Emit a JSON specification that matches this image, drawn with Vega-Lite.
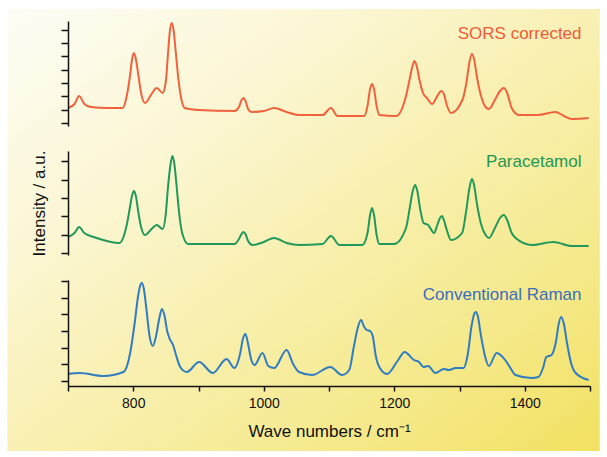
{
  "$schema": "https://vega.github.io/schema/vega-lite/v6.json",
  "padding": {"left": 7, "top": 8, "right": 7, "bottom": 7},
  "background": "#ffffff",
  "config": {"view": {"stroke": null}, "font": "Liberation Sans"},
  "datasets": {
    "sors": [
      {"wn":700,"intensity":18},{"wn":710,"intensity":22},{"wn":717,"intensity":30},{"wn":725,"intensity":22},{"wn":735,"intensity":19},{"wn":760,"intensity":18},{"wn":784,"intensity":18},{"wn":790,"intensity":30},{"wn":795,"intensity":50},{"wn":798,"intensity":66},{"wn":801,"intensity":73},{"wn":804,"intensity":67},{"wn":808,"intensity":50},{"wn":812,"intensity":33},{"wn":818,"intensity":23},{"wn":828,"intensity":32},{"wn":836,"intensity":38},{"wn":845,"intensity":33},{"wn":850,"intensity":45},{"wn":853,"intensity":70},{"wn":856,"intensity":94},{"wn":859,"intensity":103},{"wn":862,"intensity":95},{"wn":865,"intensity":75},{"wn":869,"intensity":48},{"wn":874,"intensity":26},{"wn":879,"intensity":18},{"wn":900,"intensity":16},{"wn":955,"intensity":15},{"wn":962,"intensity":19},{"wn":966,"intensity":26},{"wn":969,"intensity":28},{"wn":972,"intensity":25},{"wn":976,"intensity":17},{"wn":981,"intensity":14},{"wn":1000,"intensity":15},{"wn":1016,"intensity":18},{"wn":1035,"intensity":14},{"wn":1054,"intensity":11},{"wn":1090,"intensity":11},{"wn":1103,"intensity":18},{"wn":1113,"intensity":10},{"wn":1154,"intensity":10},{"wn":1159,"intensity":20},{"wn":1163,"intensity":37},{"wn":1166,"intensity":42},{"wn":1169,"intensity":37},{"wn":1173,"intensity":20},{"wn":1177,"intensity":11},{"wn":1203,"intensity":10},{"wn":1218,"intensity":30},{"wn":1224,"intensity":48},{"wn":1228,"intensity":60},{"wn":1231,"intensity":65},{"wn":1234,"intensity":61},{"wn":1239,"intensity":45},{"wn":1244,"intensity":33},{"wn":1250,"intensity":28},{"wn":1258,"intensity":22},{"wn":1266,"intensity":30},{"wn":1270,"intensity":34},{"wn":1273,"intensity":35},{"wn":1276,"intensity":32},{"wn":1281,"intensity":20},{"wn":1287,"intensity":13},{"wn":1305,"intensity":27},{"wn":1311,"intensity":45},{"wn":1315,"intensity":63},{"wn":1319,"intensity":72},{"wn":1322,"intensity":68},{"wn":1327,"intensity":48},{"wn":1333,"intensity":30},{"wn":1340,"intensity":19},{"wn":1345,"intensity":17},{"wn":1355,"intensity":27},{"wn":1362,"intensity":35},{"wn":1368,"intensity":38},{"wn":1373,"intensity":33},{"wn":1380,"intensity":18},{"wn":1391,"intensity":11},{"wn":1420,"intensity":11},{"wn":1447,"intensity":14},{"wn":1460,"intensity":10},{"wn":1472,"intensity":7},{"wn":1498,"intensity":8}
    ],
    "para": [
      {"wn":700,"intensity":18},{"wn":710,"intensity":22},{"wn":717,"intensity":28},{"wn":725,"intensity":22},{"wn":744,"intensity":17},{"wn":779,"intensity":12},{"wn":785,"intensity":18},{"wn":790,"intensity":30},{"wn":795,"intensity":48},{"wn":798,"intensity":59},{"wn":801,"intensity":64},{"wn":804,"intensity":59},{"wn":808,"intensity":42},{"wn":812,"intensity":28},{"wn":818,"intensity":20},{"wn":828,"intensity":26},{"wn":836,"intensity":30},{"wn":845,"intensity":26},{"wn":850,"intensity":42},{"wn":853,"intensity":66},{"wn":857,"intensity":90},{"wn":860,"intensity":99},{"wn":863,"intensity":91},{"wn":866,"intensity":72},{"wn":870,"intensity":44},{"wn":875,"intensity":22},{"wn":884,"intensity":11},{"wn":955,"intensity":11},{"wn":962,"intensity":16},{"wn":966,"intensity":21},{"wn":969,"intensity":23},{"wn":972,"intensity":21},{"wn":976,"intensity":14},{"wn":983,"intensity":10},{"wn":1000,"intensity":13},{"wn":1016,"intensity":17},{"wn":1035,"intensity":12},{"wn":1054,"intensity":10},{"wn":1090,"intensity":11},{"wn":1103,"intensity":19},{"wn":1116,"intensity":10},{"wn":1151,"intensity":10},{"wn":1159,"intensity":22},{"wn":1163,"intensity":40},{"wn":1166,"intensity":47},{"wn":1169,"intensity":40},{"wn":1173,"intensity":20},{"wn":1177,"intensity":11},{"wn":1200,"intensity":11},{"wn":1218,"intensity":27},{"wn":1224,"intensity":48},{"wn":1228,"intensity":63},{"wn":1232,"intensity":70},{"wn":1235,"intensity":65},{"wn":1240,"intensity":45},{"wn":1245,"intensity":32},{"wn":1252,"intensity":30},{"wn":1261,"intensity":22},{"wn":1266,"intensity":30},{"wn":1270,"intensity":37},{"wn":1273,"intensity":39},{"wn":1276,"intensity":35},{"wn":1281,"intensity":24},{"wn":1287,"intensity":15},{"wn":1304,"intensity":22},{"wn":1310,"intensity":43},{"wn":1315,"intensity":66},{"wn":1319,"intensity":76},{"wn":1322,"intensity":71},{"wn":1327,"intensity":50},{"wn":1333,"intensity":31},{"wn":1340,"intensity":20},{"wn":1345,"intensity":17},{"wn":1355,"intensity":28},{"wn":1362,"intensity":37},{"wn":1368,"intensity":40},{"wn":1373,"intensity":35},{"wn":1380,"intensity":22},{"wn":1386,"intensity":17},{"wn":1411,"intensity":10},{"wn":1444,"intensity":13},{"wn":1472,"intensity":9},{"wn":1498,"intensity":9}
    ],
    "conv": [
      {"wn":700,"intensity":12},{"wn":718,"intensity":13},{"wn":754,"intensity":10},{"wn":785,"intensity":14},{"wn":795,"intensity":32},{"wn":802,"intensity":62},{"wn":807,"intensity":88},{"wn":810,"intensity":99},{"wn":813,"intensity":103},{"wn":816,"intensity":98},{"wn":820,"intensity":78},{"wn":825,"intensity":50},{"wn":830,"intensity":40},{"wn":835,"intensity":50},{"wn":840,"intensity":68},{"wn":844,"intensity":77},{"wn":848,"intensity":70},{"wn":852,"intensity":55},{"wn":856,"intensity":47},{"wn":861,"intensity":41},{"wn":866,"intensity":30},{"wn":872,"intensity":19},{"wn":882,"intensity":14},{"wn":901,"intensity":24},{"wn":922,"intensity":13},{"wn":943,"intensity":27},{"wn":955,"intensity":18},{"wn":964,"intensity":33},{"wn":968,"intensity":47},{"wn":972,"intensity":52},{"wn":976,"intensity":42},{"wn":981,"intensity":26},{"wn":986,"intensity":21},{"wn":998,"intensity":33},{"wn":1007,"intensity":20},{"wn":1016,"intensity":18},{"wn":1035,"intensity":36},{"wn":1045,"intensity":22},{"wn":1054,"intensity":14},{"wn":1074,"intensity":11},{"wn":1102,"intensity":19},{"wn":1120,"intensity":11},{"wn":1131,"intensity":16},{"wn":1138,"intensity":39},{"wn":1144,"intensity":58},{"wn":1149,"intensity":66},{"wn":1154,"intensity":59},{"wn":1158,"intensity":56},{"wn":1163,"intensity":55},{"wn":1167,"intensity":50},{"wn":1172,"intensity":29},{"wn":1180,"intensity":16},{"wn":1189,"intensity":12},{"wn":1205,"intensity":25},{"wn":1216,"intensity":34},{"wn":1230,"intensity":26},{"wn":1238,"intensity":24},{"wn":1245,"intensity":19},{"wn":1252,"intensity":20},{"wn":1263,"intensity":13},{"wn":1276,"intensity":17},{"wn":1284,"intensity":16},{"wn":1294,"intensity":18},{"wn":1306,"intensity":18},{"wn":1313,"intensity":33},{"wn":1318,"intensity":58},{"wn":1322,"intensity":71},{"wn":1325,"intensity":74},{"wn":1328,"intensity":70},{"wn":1333,"intensity":50},{"wn":1339,"intensity":30},{"wn":1345,"intensity":20},{"wn":1357,"intensity":33},{"wn":1370,"intensity":26},{"wn":1378,"intensity":18},{"wn":1386,"intensity":11},{"wn":1410,"intensity":8},{"wn":1421,"intensity":9},{"wn":1428,"intensity":18},{"wn":1433,"intensity":29},{"wn":1441,"intensity":31},{"wn":1448,"intensity":45},{"wn":1452,"intensity":62},{"wn":1456,"intensity":69},{"wn":1460,"intensity":62},{"wn":1465,"intensity":42},{"wn":1471,"intensity":23},{"wn":1478,"intensity":13},{"wn":1498,"intensity":6}
    ]
  },
  "vconcat": [
    {
      "width": 522,
      "height": 105,
      "layer": [
        {
          "data": {"values": [{"bg": "gradient"}]},
          "mark": {"type": "rect", "fill": {"gradient": "linear", "x1": 0, "y1": 0, "x2": 1, "y2": 1, "stops": [{"offset": 0, "color": "#fefdf6"}, {"offset": 0.3, "color": "#fbf6d2"}, {"offset": 0.55, "color": "#f8efac"}, {"offset": 0.8, "color": "#f5e886"}, {"offset": 1, "color": "#f2e160"}]}},
          "encoding": {
            "x": {"datum": 607, "type": "quantitative", "scale": {"domain": [700, 1500], "nice": false, "zero": false}, "axis": null},
            "x2": {"datum": 1515},
            "y": {"datum": 117, "type": "quantitative", "scale": {"domain": [0, 105], "nice": false, "zero": false}},
            "y2": {"datum": -325}
          }
        },
        {
          "data": {"name": "sors"},
          "mark": {"type": "line", "interpolate": "monotone", "stroke": "#f0623e", "strokeWidth": 2},
          "encoding": {
            "x": {"field": "wn", "type": "quantitative", "scale": {"domain": [700, 1500], "nice": false, "zero": false}, "axis": null},
            "y": {"field": "intensity", "type": "quantitative", "scale": {"domain": [0, 105], "nice": false, "zero": false},
              "axis": {"values": [3, 16.3, 29.7, 43, 56.3, 69.7, 83, 96.3], "tickCount": 50, "labels": false, "grid": false, "tickSize": 7, "tickWidth": 1.5, "tickColor": "#111111", "domainColor": "#111111", "domainWidth": 1.5, "title": "Intensity / a.u.", "titleFontSize": 17, "titleFontWeight": "normal", "titleColor": "#111111", "titleOpacity": 0, "titlePadding": 12, "zindex": 1}}
          }
        },
        {
          "data": {"values": [{"label": "SORS corrected"}]},
          "mark": {"type": "text", "align": "right", "baseline": "middle", "fontSize": 17, "color": "#ec5a38"},
          "encoding": {
            "x": {"datum": 1487, "type": "quantitative", "axis": null},
            "y": {"datum": 92, "type": "quantitative"},
            "text": {"field": "label"}
          }
        }
      ]
    },
    {
      "width": 522,
      "height": 104,
      "layer": [
        {
          "data": {"name": "para"},
          "mark": {"type": "line", "interpolate": "monotone", "stroke": "#22995a", "strokeWidth": 2},
          "encoding": {
            "x": {"field": "wn", "type": "quantitative", "scale": {"domain": [700, 1500], "nice": false, "zero": false}, "axis": null},
            "y": {"field": "intensity", "type": "quantitative", "scale": {"domain": [0, 104], "nice": false, "zero": false},
              "axis": {"values": [2, 20, 39, 57, 75, 94], "tickCount": 50, "labels": false, "grid": false, "tickSize": 7, "tickWidth": 1.5, "tickColor": "#111111", "domainColor": "#111111", "domainWidth": 1.5, "title": "Intensity / a.u.", "titleFontSize": 17, "titleFontWeight": "normal", "titleColor": "#111111", "titlePadding": 12, "zindex": 1}}
          }
        },
        {
          "data": {"values": [{"label": "Paracetamol"}]},
          "mark": {"type": "text", "align": "right", "baseline": "middle", "fontSize": 17, "color": "#1f9650"},
          "encoding": {
            "x": {"datum": 1487, "type": "quantitative", "axis": null},
            "y": {"datum": 93, "type": "quantitative"},
            "text": {"field": "label"}
          }
        }
      ]
    },
    {
      "width": 522,
      "height": 106,
      "layer": [
        {
          "data": {"name": "conv"},
          "mark": {"type": "line", "interpolate": "monotone", "stroke": "#2f7cc2", "strokeWidth": 2},
          "encoding": {
            "x": {"field": "wn", "type": "quantitative", "scale": {"domain": [700, 1500], "nice": false, "zero": false},
              "axis": {"values": [700, 800, 900, 1000, 1100, 1200, 1300, 1400, 1500], "tickCount": 50, "format": "d", "labelExpr": "datum.value % 200 === 0 ? datum.label : ''", "labelFontSize": 14, "labelColor": "#111111", "labelPadding": 5, "labelOverlap": false, "grid": false, "tickSize": 5, "tickWidth": 1.5, "tickColor": "#111111", "domainColor": "#111111", "domainWidth": 1.5, "title": "Wave numbers / cm⁻¹", "titleFontSize": 17, "titleFontWeight": "normal", "titleColor": "#111111", "titlePadding": 13, "zindex": 1}},
            "y": {"field": "intensity", "type": "quantitative", "scale": {"domain": [0, 106], "nice": false, "zero": false},
              "axis": {"values": [5, 21.7, 38.3, 55, 71.7, 88.3, 105], "tickCount": 50, "labels": false, "grid": false, "tickSize": 7, "tickWidth": 1.5, "tickColor": "#111111", "domainColor": "#111111", "domainWidth": 1.5, "title": "Intensity / a.u.", "titleFontSize": 17, "titleFontWeight": "normal", "titleColor": "#111111", "titleOpacity": 0, "titlePadding": 12, "zindex": 1}}
          }
        },
        {
          "data": {"values": [{"label": "Conventional Raman"}]},
          "mark": {"type": "text", "align": "right", "baseline": "middle", "fontSize": 17, "color": "#3a6cbf"},
          "encoding": {
            "x": {"datum": 1487, "type": "quantitative"},
            "y": {"datum": 91, "type": "quantitative"},
            "text": {"field": "label"}
          }
        }
      ]
    }
  ],
  "spacing": 25,
  "bounds": "flush"
}
